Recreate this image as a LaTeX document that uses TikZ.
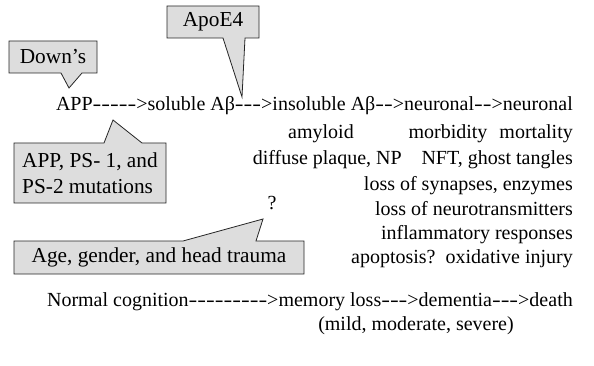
\documentclass[tikz,border=0pt]{standalone}
\usepackage{fontspec}
\setmainfont{Liberation Serif}
\newcommand\hy{\scalebox{1.31}[1]{-}}
\definecolor{calfill}{RGB}{221,221,221}
\tikzset{
 txt/.style={inner sep=0pt, font=\fontsize{20}{24}\selectfont, anchor=base east},
 ctxt/.style={inner sep=0pt, font=\fontsize{21.3}{25.5}\selectfont, align=left},
 callout/.style={fill=calfill, draw=black!85, line width=0.8pt, line join=miter},
}
\begin{document}
\begin{tikzpicture}[x=1pt,y=-1pt]
\useasboundingbox (0,0) rectangle (594,366);
\fill[white] (0,0) rectangle (594,366);

% callouts
\draw[callout] (9,41) -- (97,41) -- (97,73) -- (82,73) -- (69,88) -- (61,73) -- (9,73) -- cycle;
\node[ctxt] (down) at (53,57) {Down’s};

\draw[callout] (167,6) -- (259,6) -- (259,38) -- (245,38) -- (242,97) -- (223,38) -- (167,38) -- cycle;
\node[ctxt] (apoe) at (213,22) {ApoE4};

\draw[callout] (14,143) -- (104,143) -- (113,120) -- (142,143) -- (166,143) -- (166,203) -- (14,203) -- cycle;
\node[ctxt] (mut) at (90,173) {APP, PS- 1, and\\PS-2 mutations};

\draw[callout] (14,241) -- (183,241) -- (263,219) -- (256,241) -- (304,241) -- (304,274) -- (14,274) -- cycle;
\node[ctxt] (age) at (159,257.5) {Age, gender, and head trauma};

% text
\node[txt] (main) at (573,111) {APP\hy\hy\hy\hy\hy>soluble Aβ\hy\hy\hy>insoluble Aβ\hy\hy>neuronal\hy\hy>neuronal};
\node[txt, anchor=base] (amyloid) at (321,139) {amyloid};
\node[txt, anchor=base] (morb) at (448,139) {morbidity};
\node[txt] (mort) at (573,139) {mortality};
\node[txt] (dp) at (402,165) {diffuse plaque, NP};
\node[txt] (nft) at (573,165) {NFT, ghost tangles};
\node[txt] (syn) at (573,191) {loss of synapses, enzymes};
\node[txt] (neu) at (573,215) {loss of neurotransmitters};
\node[txt] (inf) at (573,239) {inflammatory responses};
\node[txt] (apo) at (573,263) {apoptosis?\ \ oxidative injury};
\node[txt, anchor=base] (q) at (272,210) {?};
\node[txt] (norm) at (573,306) {Normal cognition\hy\hy\hy\hy\hy\hy\hy\hy\hy>memory loss\hy\hy\hy>dementia\hy\hy\hy>death};
\node[txt, anchor=base] (mild) at (416,330) {(mild, moderate, severe)};
\end{tikzpicture}
\end{document}
